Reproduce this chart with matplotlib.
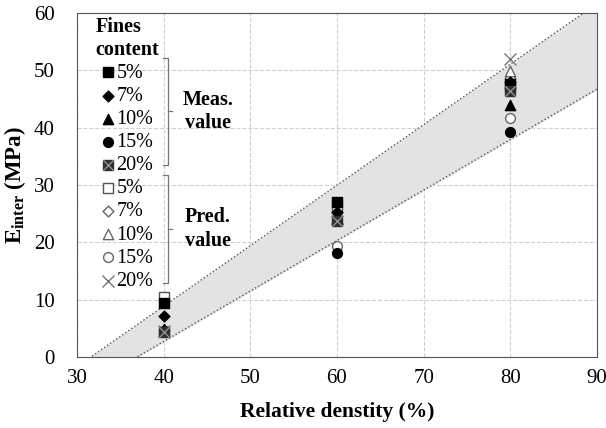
import matplotlib.pyplot as plt

plt.rcParams['font.family'] = ['Liberation Serif', 'DejaVu Serif']
plt.rcParams['mathtext.fontset'] = 'custom'
plt.rcParams['mathtext.rm'] = 'Liberation Serif'
plt.rcParams['mathtext.bf'] = 'Liberation Serif:bold'

# relative density (%)
density = [40, 60, 80]
fines = ['5%', '7%', '10%', '15%', '20%']

# measured E_inter (MPa) per fines content
meas_5 = [9.4, 27.0, 47.6]
meas_7 = [7.2, 25.2, 48.0]
meas_10 = [4.8, 24.0, 44.0]
meas_15 = [4.5, 18.1, 39.2]
meas_20 = [4.4, 23.7, 46.4]

# predicted E_inter (MPa) per fines content
pred_5 = [10.4, 26.4, 47.2]
pred_7 = [4.7, 24.6, 48.6]
pred_10 = [4.6, 24.2, 49.8]
pred_15 = [4.5, 19.3, 41.7]
pred_20 = [4.6, 24.3, 51.9]

# boundary lines of the shaded band
band_x = [30, 90]
band_upper = [-1.7, 61.6]
band_lower = [-6.1, 46.7]

fig = plt.figure(figsize=(6.06, 4.28), dpi=100)
ax = fig.add_axes([0.127, 0.166, 0.858, 0.804])

ax.fill_between(band_x, band_lower, band_upper, color='#e3e3e3', zorder=1)
ax.plot(band_x, band_upper, color='#555555', ls=':', lw=1.0, zorder=2)
ax.plot(band_x, band_lower, color='#555555', ls=':', lw=1.0, zorder=2)

ms = 50
# predicted (open) markers first, measured on top
h_p5 = ax.scatter(density, pred_5, marker='s', s=ms, facecolor='white', edgecolor='#555555', lw=1, zorder=3)
h_p7 = ax.scatter(density, pred_7, marker='D', s=ms * 0.6, facecolor='white', edgecolor='#666666', lw=1, zorder=3)
h_p10 = ax.scatter(density, pred_10, marker='^', s=ms * 1.1, facecolor='white', edgecolor='#666666', lw=1, zorder=3)
h_p15 = ax.scatter(density, pred_15, marker='o', s=ms, facecolor='white', edgecolor='#666666', lw=1, zorder=3)
h_p20 = ax.scatter(density, pred_20, marker='x', s=ms * 1.5, color='#777777', lw=1, zorder=3)

h_m5 = ax.scatter(density, meas_5, marker='s', s=ms, color='black', zorder=4)
h_m7 = ax.scatter(density, meas_7, marker='D', s=ms * 0.6, color='black', zorder=4)
h_m10 = ax.scatter(density, meas_10, marker='^', s=ms * 1.1, color='black', zorder=4)
h_m15 = ax.scatter(density, meas_15, marker='o', s=ms, color='black', zorder=4)
h_m20a = ax.scatter(density, meas_20, marker='s', s=ms * 1.1, color='#303030', zorder=4)
h_m20b = ax.scatter(density, meas_20, marker='x', s=ms * 1.1, color='#9a9a9a', lw=0.9, zorder=5)

ax.set_xlim(30, 90)
ax.set_ylim(0, 60)
ax.set_xticks(range(30, 91, 10))
ax.set_yticks(range(0, 61, 10))
ax.tick_params(axis='x', length=0, labelsize=15, pad=9)
ax.tick_params(axis='y', length=0, labelsize=15, pad=16)
ax.grid(True, color='#d0d0d0', ls='--', lw=0.8)
ax.set_axisbelow(True)
for s in ax.spines.values():
    s.set_color('#555555')

ax.set_xlabel('Relative denstity (%)', fontsize=15.5, fontweight='bold', labelpad=10)
ax.set_ylabel(r'E$_{\mathbf{inter}}$ (MPa)', fontsize=16.5, fontweight='bold', labelpad=4)

leg = ax.legend([h_m5, h_m7, h_m10, h_m15, (h_m20a, h_m20b),
                 h_p5, h_p7, h_p10, h_p15, h_p20],
                fines + fines, title='Fines\ncontent', loc='upper left',
                bbox_to_anchor=(0.032, 0.995), frameon=False, fontsize=14.5,
                handlelength=0.6, handletextpad=0.15, labelspacing=0.2,
                borderpad=0.1, borderaxespad=0.0,
                title_fontproperties={'weight': 'bold', 'size': 14.5})
leg._legend_box.align = 'center'

# brackets with group labels
for y0, y1, txt in [(0.869, 0.558, 'Meas.\nvalue'), (0.529, 0.215, 'Pred.\nvalue')]:
    ax.plot([0.165, 0.175, 0.175, 0.165], [y0, y0, y1, y1], color='#777777', lw=0.9,
            transform=ax.transAxes, clip_on=False)
    ym = (y0 + y1) / 2
    ax.plot([0.175, 0.182], [ym, ym], color='#777777', lw=0.9, transform=ax.transAxes)
    ax.text(0.252, ym, txt, transform=ax.transAxes, ha='center', va='center',
            fontsize=14.5, fontweight='bold', linespacing=1.25)

fig.savefig('out.png', dpi=100)
